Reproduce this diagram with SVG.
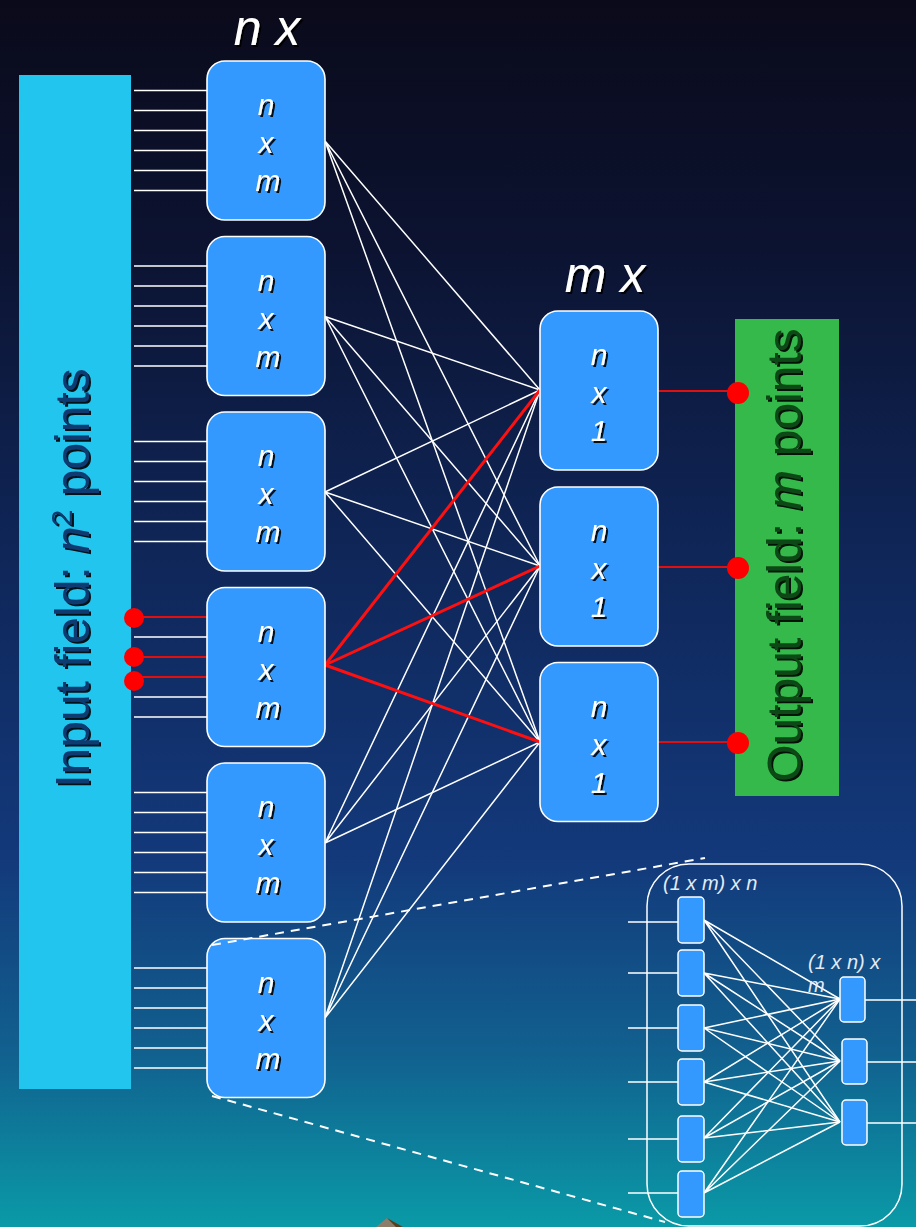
<svg xmlns="http://www.w3.org/2000/svg" width="916" height="1227" viewBox="0 0 916 1227">
<defs>
<linearGradient id="bg" x1="0" y1="0" x2="0" y2="1">
<stop offset="0" stop-color="#0a0a1a"/>
<stop offset="0.2" stop-color="#0c1331"/>
<stop offset="0.45" stop-color="#0f2658"/>
<stop offset="0.7" stop-color="#13397b"/>
<stop offset="0.86" stop-color="#11618f"/>
<stop offset="1" stop-color="#0a9aa7"/>
</linearGradient>
<filter id="sh" x="-20%" y="-20%" width="140%" height="140%">
<feDropShadow dx="2" dy="2" stdDeviation="0.4" flood-color="#000" flood-opacity="0.9"/>
</filter>
</defs>
<style>
.box{fill:#3399ff;stroke:#fff;stroke-width:1.6}
.sbox{fill:#3399ff;stroke:#fff;stroke-width:1.5}
.bt{font-family:"Liberation Sans",Arial,sans-serif;font-style:italic;font-size:30px;fill:#fff;text-anchor:middle}
.hd{font-family:"Liberation Sans",Arial,sans-serif;font-style:italic;font-size:50px;fill:#fff;text-anchor:middle}
.sm{font-family:"Liberation Sans",Arial,sans-serif;font-style:italic;font-size:20px;fill:#e4ebf5}
.w{stroke:#fff;stroke-width:1.5;fill:none}
.r{stroke:#e01010;stroke-width:2;fill:none}
.rt{stroke:#ff1010;stroke-width:3;fill:none}
.dash{stroke:#fff;stroke-width:2;stroke-dasharray:9 7;fill:none}
.dot{fill:#ff0000}
.side{font-family:"Liberation Sans",Arial,sans-serif;font-size:48px;text-anchor:middle}
</style>
<rect x="0" y="0" width="916" height="1227" fill="url(#bg)"/>

<g id="input-field">
<rect x="19" y="75" width="112" height="1014" fill="#22c5ee"/>
<g filter="url(#sh)">
<text class="side" fill="#0d3b72" transform="translate(89,578) rotate(-90)">Input field: <tspan font-style="italic">n</tspan><tspan font-size="30" dy="-17">2</tspan><tspan dy="17"> points</tspan></text>
</g>
</g>

<g id="output-field">
<rect x="735" y="319" width="104" height="477" fill="#35b94b"/>
<g filter="url(#sh)">
<text class="side" fill="#0b4a14" transform="translate(801,555) rotate(-90)">Output field: <tspan font-style="italic">m</tspan> points</text>
</g>
</g>

<g id="headers" filter="url(#sh)">
<text class="hd" x="267" y="45">n x</text>
<text class="hd" x="605" y="292">m x</text>
</g>

<g id="connectors">
<g class="w">
<path d="M134 90.5H207M134 110.5H207M134 130.5H207M134 150.5H207M134 170.5H207M134 190.5H207"/>
<path d="M134 266H207M134 286H207M134 306H207M134 326H207M134 346H207M134 366H207"/>
<path d="M134 441.5H207M134 461.5H207M134 481.5H207M134 501.5H207M134 521.5H207M134 541.5H207"/>
<path d="M134 637H207M134 697H207M134 717H207"/>
<path d="M134 792.5H207M134 812.5H207M134 832.5H207M134 852.5H207M134 872.5H207M134 892.5H207"/>
<path d="M134 968H207M134 988H207M134 1008H207M134 1028H207M134 1048H207M134 1068H207"/>
</g>
<g class="r">
<path d="M134 617H207M134 657H207M134 677H207"/>
<path d="M658 391H738M658 567H738M658 742H738"/>
</g>
<g class="w">
<path d="M325 141L540 390M325 141L540 566M325 141L540 742"/>
<path d="M325 316.5L540 390M325 316.5L540 566M325 316.5L540 742"/>
<path d="M325 492L540 390M325 492L540 566M325 492L540 742"/>
<path d="M325 843L540 390M325 843L540 566M325 843L540 742"/>
<path d="M325 1018L540 390M325 1018L540 566M325 1018L540 742"/>
</g>
<g class="rt">
<path d="M325 665L540 390M325 665L540 566M325 665L540 742"/>
</g>
</g>

<g id="input-dots">
<circle class="dot" cx="134" cy="618" r="10"/>
<circle class="dot" cx="134" cy="657" r="10"/>
<circle class="dot" cx="134" cy="681" r="10"/>
</g>
<g id="output-dots">
<circle class="dot" cx="738" cy="393" r="11"/>
<circle class="dot" cx="738" cy="568" r="11"/>
<circle class="dot" cx="738" cy="743" r="11"/>
</g>

<g id="L1"><rect class="box" x="207" y="61" width="118" height="159" rx="18"/><g filter="url(#sh)"><text class="bt" x="266" y="115">n</text><text class="bt" x="266" y="153">x</text><text class="bt" x="268" y="191">m</text></g></g>
<g id="L2"><rect class="box" x="207" y="236.5" width="118" height="159" rx="18"/><g filter="url(#sh)"><text class="bt" x="266" y="290.5">n</text><text class="bt" x="266" y="328.5">x</text><text class="bt" x="268" y="366.5">m</text></g></g>
<g id="L3"><rect class="box" x="207" y="412" width="118" height="159" rx="18"/><g filter="url(#sh)"><text class="bt" x="266" y="466">n</text><text class="bt" x="266" y="504">x</text><text class="bt" x="268" y="542">m</text></g></g>
<g id="L4"><rect class="box" x="207" y="587.5" width="118" height="159" rx="18"/><g filter="url(#sh)"><text class="bt" x="266" y="641.5">n</text><text class="bt" x="266" y="679.5">x</text><text class="bt" x="268" y="717.5">m</text></g></g>
<g id="L5"><rect class="box" x="207" y="763" width="118" height="159" rx="18"/><g filter="url(#sh)"><text class="bt" x="266" y="817">n</text><text class="bt" x="266" y="855">x</text><text class="bt" x="268" y="893">m</text></g></g>
<g id="L6"><rect class="box" x="207" y="938.5" width="118" height="159" rx="18"/><g filter="url(#sh)"><text class="bt" x="266" y="992.5">n</text><text class="bt" x="266" y="1030.5">x</text><text class="bt" x="268" y="1068.5">m</text></g></g>

<g id="R1"><rect class="box" x="540" y="311" width="118" height="159" rx="18"/><g filter="url(#sh)"><text class="bt" x="599" y="365">n</text><text class="bt" x="599" y="403">x</text><text class="bt" x="599" y="441">1</text></g></g>
<g id="R2"><rect class="box" x="540" y="487" width="118" height="159" rx="18"/><g filter="url(#sh)"><text class="bt" x="599" y="541">n</text><text class="bt" x="599" y="579">x</text><text class="bt" x="599" y="617">1</text></g></g>
<g id="R3"><rect class="box" x="540" y="662.5" width="118" height="159" rx="18"/><g filter="url(#sh)"><text class="bt" x="599" y="716.5">n</text><text class="bt" x="599" y="754.5">x</text><text class="bt" x="599" y="792.5">1</text></g></g>

<g id="zoom-lines">
<path class="dash" d="M212 945L705 858"/>
<path class="dash" d="M212 1096L665 1222"/>
</g>

<g id="inset">
<rect x="647" y="864" width="255" height="362" rx="42" fill="none" stroke="#fff" stroke-width="1.5"/>
<g class="w">
<path d="M628 922H678M628 973H678M628 1028H678M628 1082H678M628 1139H678M628 1193H678"/>
<path d="M865 1000H916M865 1062H916M865 1123H916"/>
<path d="M704 920L840 999M704 920L840 1061M704 920L840 1122"/>
<path d="M704 973L840 999M704 973L840 1061M704 973L840 1122"/>
<path d="M704 1028L840 999M704 1028L840 1061M704 1028L840 1122"/>
<path d="M704 1082L840 999M704 1082L840 1061M704 1082L840 1122"/>
<path d="M704 1138L840 999M704 1138L840 1061M704 1138L840 1122"/>
<path d="M704 1193L840 999M704 1193L840 1061M704 1193L840 1122"/>
</g>
<rect class="sbox" x="678" y="897" width="26" height="46" rx="4"/>
<rect class="sbox" x="678" y="950" width="26" height="46" rx="4"/>
<rect class="sbox" x="678" y="1005" width="26" height="46" rx="4"/>
<rect class="sbox" x="678" y="1059" width="26" height="46" rx="4"/>
<rect class="sbox" x="678" y="1116" width="26" height="46" rx="4"/>
<rect class="sbox" x="678" y="1171" width="26" height="46" rx="4"/>
<rect class="sbox" x="840" y="977" width="25" height="45" rx="4"/>
<rect class="sbox" x="842" y="1039" width="25" height="45" rx="4"/>
<rect class="sbox" x="842" y="1100" width="25" height="45" rx="4"/>
<text class="sm" x="663" y="890">(1 x m) x n</text>
<text class="sm" x="808" y="969">(1 x n) x</text>
<text class="sm" x="808" y="992">m</text>
</g>

<g id="pyramid">
<polygon points="376,1227 387,1218 396,1227" fill="#8c7e6a"/>
<polygon points="387,1218 403,1227 396,1227" fill="#5a3f1e"/>
</g>
</svg>
